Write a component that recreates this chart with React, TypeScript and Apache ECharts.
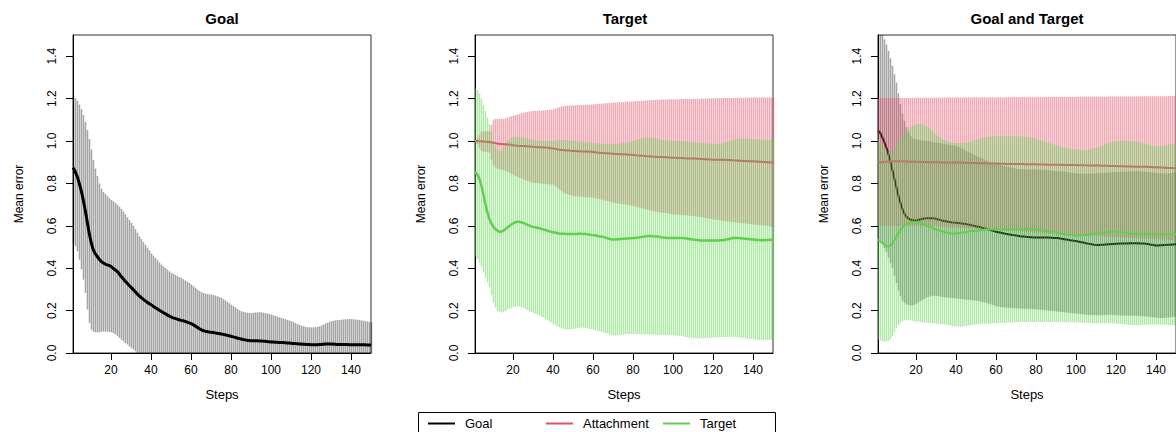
import React, { useEffect, useRef } from "react";
import * as echarts from "echarts";

// ---------- data ----------
const STEPS: number[] = Array.from({ length: 150 }, (_, i) => i + 1);
const X_TICKS = [20, 40, 60, 80, 100, 120, 140];
const Y_TICKS = [0, 0.2, 0.4, 0.6, 0.8, 1.0, 1.2, 1.4];
const Y_MIN = 0;
const Y_MAX = 1.5;

// Panel 1: Goal
const g1Mean = [
  0.874, 0.858, 0.835, 0.805, 0.770, 0.728, 0.680, 0.625, 0.570, 0.525,
  0.490, 0.470, 0.457, 0.443, 0.433, 0.426, 0.420, 0.416, 0.413, 0.408,
  0.400, 0.393, 0.386, 0.375, 0.362, 0.351, 0.340, 0.330, 0.320, 0.310,
  0.300, 0.290, 0.280, 0.270, 0.262, 0.254, 0.247, 0.240, 0.234, 0.228,
  0.221, 0.215, 0.209, 0.203, 0.197, 0.191, 0.186, 0.180, 0.175, 0.170,
  0.166, 0.163, 0.160, 0.157, 0.154, 0.152, 0.149, 0.146, 0.142, 0.139,
  0.134, 0.128, 0.122, 0.116, 0.110, 0.106, 0.103, 0.101, 0.099, 0.098,
  0.097, 0.095, 0.093, 0.092, 0.090, 0.088, 0.086, 0.084, 0.081, 0.079,
  0.076, 0.074, 0.071, 0.068, 0.066, 0.064, 0.062, 0.060, 0.059, 0.058,
  0.058, 0.058, 0.058, 0.057, 0.057, 0.056, 0.055, 0.054, 0.053, 0.052,
  0.052, 0.051, 0.051, 0.050, 0.049, 0.049, 0.048, 0.047, 0.047, 0.046,
  0.045, 0.045, 0.044, 0.043, 0.042, 0.041, 0.041, 0.040, 0.040, 0.039,
  0.039, 0.039, 0.039, 0.040, 0.040, 0.041, 0.042, 0.042, 0.043, 0.043,
  0.042, 0.041, 0.040, 0.040, 0.040, 0.040, 0.040, 0.040, 0.039, 0.039,
  0.039, 0.039, 0.039, 0.039, 0.039, 0.039, 0.039, 0.038, 0.038, 0.038,
];
const g1Upper = [
  1.210, 1.203, 1.190, 1.172, 1.150, 1.122, 1.090, 1.052, 1.010, 0.960,
  0.910, 0.870, 0.835, 0.800, 0.775, 0.760, 0.750, 0.740, 0.730, 0.722,
  0.715, 0.708, 0.700, 0.690, 0.680, 0.668, 0.654, 0.640, 0.627, 0.614,
  0.600, 0.584, 0.567, 0.550, 0.537, 0.523, 0.510, 0.497, 0.484, 0.470,
  0.459, 0.448, 0.438, 0.427, 0.417, 0.409, 0.401, 0.393, 0.385, 0.378,
  0.373, 0.368, 0.363, 0.358, 0.354, 0.348, 0.342, 0.336, 0.330, 0.323,
  0.315, 0.308, 0.300, 0.293, 0.287, 0.283, 0.280, 0.278, 0.277, 0.276,
  0.274, 0.271, 0.268, 0.264, 0.260, 0.254, 0.248, 0.241, 0.235, 0.228,
  0.221, 0.215, 0.208, 0.202, 0.197, 0.194, 0.192, 0.190, 0.189, 0.189,
  0.190, 0.191, 0.192, 0.192, 0.192, 0.190, 0.188, 0.186, 0.184, 0.181,
  0.178, 0.175, 0.172, 0.168, 0.165, 0.162, 0.159, 0.156, 0.153, 0.150,
  0.146, 0.141, 0.137, 0.133, 0.129, 0.126, 0.124, 0.122, 0.121, 0.121,
  0.121, 0.122, 0.124, 0.126, 0.129, 0.134, 0.139, 0.143, 0.147, 0.150,
  0.152, 0.154, 0.155, 0.156, 0.157, 0.158, 0.159, 0.160, 0.160, 0.160,
  0.159, 0.158, 0.157, 0.156, 0.154, 0.152, 0.150, 0.148, 0.146, 0.145,
];
const g1Lower = [
  0.520, 0.504, 0.480, 0.440, 0.394, 0.346, 0.283, 0.205, 0.142, 0.110,
  0.100, 0.098, 0.097, 0.098, 0.100, 0.101, 0.101, 0.100, 0.099, 0.097,
  0.094, 0.087, 0.079, 0.071, 0.063, 0.055, 0.047, 0.040, 0.031, 0.023,
  0.016, 0.008, 0.000, 0.000, 0.000, 0.000, 0.000, 0.000, 0.000, 0.000,
  0.000, 0.000, 0.000, 0.000, 0.000, 0.000, 0.000, 0.000, 0.000, 0.000,
  0.000, 0.000, 0.000, 0.000, 0.000, 0.000, 0.000, 0.000, 0.000, 0.000,
  0.000, 0.000, 0.000, 0.000, 0.000, 0.000, 0.000, 0.000, 0.000, 0.000,
  0.000, 0.000, 0.000, 0.000, 0.000, 0.000, 0.000, 0.000, 0.000, 0.000,
  0.000, 0.000, 0.000, 0.000, 0.000, 0.000, 0.000, 0.000, 0.000, 0.000,
  0.000, 0.000, 0.000, 0.000, 0.000, 0.000, 0.000, 0.000, 0.000, 0.000,
  0.000, 0.000, 0.000, 0.000, 0.000, 0.000, 0.000, 0.000, 0.000, 0.000,
  0.000, 0.000, 0.000, 0.000, 0.000, 0.000, 0.000, 0.000, 0.000, 0.000,
  0.000, 0.000, 0.000, 0.000, 0.000, 0.000, 0.000, 0.000, 0.000, 0.000,
  0.000, 0.000, 0.000, 0.000, 0.000, 0.000, 0.000, 0.000, 0.000, 0.000,
  0.000, 0.000, 0.000, 0.000, 0.000, 0.000, 0.000, 0.000, 0.000, 0.000,
];

// Panel 2: Target (Attachment + Target)
const a2Mean = [
  1.000, 1.000, 0.999, 0.999, 0.998, 0.997, 0.996, 0.995, 0.994, 0.992,
  0.990, 0.988, 0.987, 0.986, 0.985, 0.985, 0.984, 0.983, 0.982, 0.980,
  0.979, 0.978, 0.977, 0.977, 0.976, 0.976, 0.975, 0.974, 0.974, 0.973,
  0.972, 0.971, 0.970, 0.970, 0.969, 0.969, 0.968, 0.967, 0.966, 0.965,
  0.963, 0.961, 0.959, 0.958, 0.957, 0.956, 0.955, 0.955, 0.954, 0.953,
  0.953, 0.952, 0.952, 0.951, 0.951, 0.950, 0.950, 0.949, 0.949, 0.948,
  0.947, 0.946, 0.945, 0.944, 0.943, 0.942, 0.942, 0.941, 0.941, 0.940,
  0.939, 0.939, 0.938, 0.938, 0.937, 0.937, 0.936, 0.935, 0.935, 0.934,
  0.933, 0.932, 0.931, 0.931, 0.930, 0.929, 0.928, 0.928, 0.927, 0.926,
  0.926, 0.925, 0.925, 0.924, 0.924, 0.923, 0.923, 0.922, 0.922, 0.921,
  0.921, 0.920, 0.920, 0.920, 0.919, 0.919, 0.918, 0.918, 0.917, 0.917,
  0.917, 0.916, 0.916, 0.915, 0.915, 0.914, 0.914, 0.913, 0.913, 0.912,
  0.912, 0.912, 0.911, 0.911, 0.911, 0.910, 0.910, 0.910, 0.909, 0.909,
  0.908, 0.908, 0.907, 0.907, 0.906, 0.906, 0.905, 0.905, 0.904, 0.904,
  0.903, 0.903, 0.902, 0.902, 0.901, 0.901, 0.900, 0.900, 0.899, 0.899,
];
const a2Upper = [
  1.000, 1.015, 1.030, 1.045, 1.046, 1.046, 1.046, 1.046, 1.075, 1.100,
  1.104, 1.105, 1.105, 1.105, 1.105, 1.106, 1.110, 1.114, 1.117, 1.120,
  1.123, 1.125, 1.128, 1.131, 1.134, 1.136, 1.138, 1.139, 1.141, 1.142,
  1.143, 1.143, 1.144, 1.144, 1.145, 1.145, 1.146, 1.147, 1.148, 1.150,
  1.153, 1.156, 1.160, 1.163, 1.165, 1.166, 1.167, 1.167, 1.168, 1.168,
  1.168, 1.169, 1.169, 1.170, 1.170, 1.171, 1.171, 1.172, 1.172, 1.173,
  1.174, 1.175, 1.176, 1.176, 1.177, 1.178, 1.179, 1.180, 1.180, 1.181,
  1.182, 1.182, 1.183, 1.183, 1.184, 1.185, 1.185, 1.186, 1.186, 1.187,
  1.188, 1.188, 1.189, 1.190, 1.190, 1.191, 1.192, 1.192, 1.193, 1.194,
  1.194, 1.195, 1.195, 1.195, 1.196, 1.196, 1.196, 1.197, 1.197, 1.197,
  1.197, 1.197, 1.197, 1.198, 1.198, 1.198, 1.198, 1.198, 1.198, 1.198,
  1.199, 1.199, 1.199, 1.200, 1.200, 1.200, 1.201, 1.201, 1.201, 1.202,
  1.202, 1.202, 1.202, 1.202, 1.203, 1.203, 1.203, 1.203, 1.203, 1.203,
  1.204, 1.204, 1.204, 1.204, 1.204, 1.204, 1.205, 1.205, 1.205, 1.205,
  1.205, 1.205, 1.205, 1.205, 1.205, 1.205, 1.205, 1.205, 1.205, 1.205,
];
const a2Lower = [
  1.000, 0.985, 0.968, 0.953, 0.950, 0.949, 0.947, 0.945, 0.912, 0.885,
  0.876, 0.870, 0.866, 0.864, 0.862, 0.860, 0.856, 0.850, 0.845, 0.840,
  0.835, 0.831, 0.827, 0.823, 0.819, 0.815, 0.812, 0.809, 0.806, 0.803,
  0.802, 0.801, 0.800, 0.799, 0.798, 0.797, 0.797, 0.796, 0.795, 0.795,
  0.788, 0.780, 0.772, 0.764, 0.756, 0.752, 0.749, 0.746, 0.743, 0.740,
  0.739, 0.738, 0.738, 0.737, 0.736, 0.735, 0.734, 0.734, 0.733, 0.732,
  0.730, 0.728, 0.726, 0.724, 0.721, 0.719, 0.717, 0.714, 0.712, 0.709,
  0.707, 0.706, 0.704, 0.703, 0.701, 0.700, 0.698, 0.697, 0.695, 0.693,
  0.691, 0.688, 0.686, 0.683, 0.681, 0.679, 0.676, 0.674, 0.671, 0.669,
  0.667, 0.666, 0.664, 0.663, 0.661, 0.660, 0.659, 0.657, 0.656, 0.654,
  0.653, 0.653, 0.652, 0.651, 0.650, 0.650, 0.649, 0.648, 0.647, 0.646,
  0.644, 0.643, 0.641, 0.640, 0.638, 0.637, 0.635, 0.634, 0.632, 0.630,
  0.629, 0.628, 0.626, 0.625, 0.624, 0.622, 0.621, 0.620, 0.618, 0.617,
  0.616, 0.615, 0.614, 0.613, 0.612, 0.611, 0.610, 0.608, 0.607, 0.606,
  0.605, 0.604, 0.603, 0.602, 0.601, 0.600, 0.599, 0.598, 0.596, 0.595,
];
const t2Mean = [
  0.854, 0.845, 0.827, 0.795, 0.756, 0.712, 0.670, 0.637, 0.614, 0.598,
  0.586, 0.578, 0.573, 0.572, 0.576, 0.583, 0.591, 0.598, 0.605, 0.611,
  0.616, 0.619, 0.619, 0.617, 0.614, 0.610, 0.606, 0.602, 0.598, 0.595,
  0.593, 0.591, 0.589, 0.586, 0.583, 0.580, 0.578, 0.575, 0.572, 0.570,
  0.568, 0.566, 0.564, 0.563, 0.562, 0.562, 0.561, 0.561, 0.561, 0.561,
  0.561, 0.561, 0.562, 0.562, 0.561, 0.561, 0.560, 0.559, 0.557, 0.556,
  0.555, 0.553, 0.551, 0.550, 0.548, 0.545, 0.542, 0.539, 0.537, 0.535,
  0.535, 0.536, 0.537, 0.538, 0.539, 0.539, 0.540, 0.541, 0.541, 0.542,
  0.543, 0.544, 0.545, 0.547, 0.548, 0.550, 0.551, 0.552, 0.552, 0.551,
  0.550, 0.549, 0.548, 0.546, 0.545, 0.544, 0.543, 0.543, 0.542, 0.542,
  0.542, 0.542, 0.542, 0.542, 0.542, 0.541, 0.540, 0.538, 0.537, 0.535,
  0.534, 0.533, 0.532, 0.531, 0.531, 0.531, 0.531, 0.531, 0.531, 0.531,
  0.531, 0.531, 0.531, 0.532, 0.532, 0.534, 0.536, 0.538, 0.540, 0.542,
  0.543, 0.543, 0.542, 0.541, 0.540, 0.539, 0.538, 0.537, 0.536, 0.535,
  0.534, 0.533, 0.533, 0.532, 0.532, 0.532, 0.533, 0.533, 0.534, 0.534,
];
const t2Upper = [
  1.247, 1.240, 1.225, 1.200, 1.170, 1.140, 1.110, 1.080, 1.040, 1.000,
  0.972, 0.957, 0.950, 0.955, 0.970, 0.988, 1.000, 1.009, 1.015, 1.018,
  1.020, 1.020, 1.019, 1.017, 1.015, 1.013, 1.011, 1.009, 1.007, 1.005,
  1.004, 1.003, 1.002, 1.001, 1.000, 1.000, 1.000, 1.000, 1.000, 1.000,
  1.002, 1.004, 1.005, 1.005, 1.005, 1.004, 1.003, 1.002, 1.001, 1.000,
  0.999, 0.998, 0.997, 0.996, 0.995, 0.994, 0.993, 0.992, 0.991, 0.990,
  0.989, 0.988, 0.987, 0.986, 0.985, 0.985, 0.985, 0.985, 0.985, 0.985,
  0.986, 0.986, 0.987, 0.988, 0.990, 0.992, 0.994, 0.996, 0.998, 1.000,
  1.003, 1.006, 1.010, 1.013, 1.015, 1.016, 1.017, 1.017, 1.016, 1.015,
  1.013, 1.011, 1.009, 1.007, 1.005, 1.004, 1.003, 1.002, 1.001, 1.000,
  1.000, 1.000, 1.000, 1.000, 1.000, 0.999, 0.998, 0.997, 0.996, 0.995,
  0.994, 0.993, 0.992, 0.991, 0.990, 0.989, 0.988, 0.987, 0.986, 0.985,
  0.985, 0.986, 0.987, 0.988, 0.990, 0.993, 0.996, 0.999, 1.002, 1.005,
  1.008, 1.010, 1.012, 1.012, 1.012, 1.012, 1.011, 1.011, 1.010, 1.010,
  1.009, 1.008, 1.007, 1.006, 1.005, 1.005, 1.005, 1.005, 1.005, 1.005,
];
const t2Lower = [
  0.456, 0.443, 0.426, 0.405, 0.380, 0.356, 0.333, 0.310, 0.272, 0.238,
  0.215, 0.200, 0.195, 0.190, 0.193, 0.198, 0.204, 0.209, 0.213, 0.216,
  0.219, 0.220, 0.219, 0.216, 0.212, 0.207, 0.202, 0.197, 0.193, 0.189,
  0.185, 0.181, 0.177, 0.172, 0.167, 0.161, 0.155, 0.149, 0.143, 0.136,
  0.130, 0.125, 0.121, 0.117, 0.114, 0.112, 0.111, 0.111, 0.112, 0.114,
  0.116, 0.118, 0.119, 0.120, 0.119, 0.118, 0.116, 0.114, 0.112, 0.110,
  0.107, 0.105, 0.102, 0.100, 0.097, 0.094, 0.091, 0.088, 0.085, 0.083,
  0.083, 0.084, 0.085, 0.086, 0.087, 0.088, 0.089, 0.090, 0.090, 0.090,
  0.090, 0.090, 0.089, 0.089, 0.088, 0.088, 0.088, 0.087, 0.087, 0.087,
  0.086, 0.086, 0.086, 0.085, 0.085, 0.085, 0.085, 0.085, 0.085, 0.084,
  0.083, 0.082, 0.081, 0.080, 0.078, 0.076, 0.074, 0.072, 0.071, 0.070,
  0.069, 0.069, 0.069, 0.070, 0.070, 0.071, 0.071, 0.072, 0.072, 0.073,
  0.073, 0.074, 0.074, 0.075, 0.075, 0.075, 0.076, 0.076, 0.076, 0.076,
  0.075, 0.074, 0.073, 0.072, 0.071, 0.070, 0.068, 0.067, 0.065, 0.064,
  0.063, 0.062, 0.062, 0.061, 0.061, 0.061, 0.061, 0.061, 0.061, 0.062,
];

// Panel 3: Goal and Target
const g3Mean = [
  1.050, 1.040, 1.020, 0.998, 0.975, 0.945, 0.910, 0.870, 0.830, 0.790,
  0.750, 0.715, 0.685, 0.660, 0.645, 0.636, 0.630, 0.627, 0.625, 0.625,
  0.627, 0.630, 0.632, 0.634, 0.635, 0.636, 0.636, 0.636, 0.635, 0.633,
  0.630, 0.628, 0.625, 0.623, 0.621, 0.619, 0.618, 0.616, 0.615, 0.614,
  0.613, 0.612, 0.611, 0.609, 0.608, 0.606, 0.604, 0.602, 0.600, 0.598,
  0.596, 0.594, 0.591, 0.589, 0.586, 0.583, 0.581, 0.578, 0.575, 0.572,
  0.570, 0.568, 0.566, 0.564, 0.562, 0.560, 0.559, 0.557, 0.556, 0.554,
  0.553, 0.551, 0.550, 0.549, 0.548, 0.547, 0.546, 0.546, 0.545, 0.545,
  0.545, 0.545, 0.545, 0.545, 0.545, 0.545, 0.544, 0.544, 0.543, 0.543,
  0.542, 0.540, 0.539, 0.537, 0.535, 0.534, 0.532, 0.531, 0.529, 0.528,
  0.526, 0.524, 0.522, 0.520, 0.518, 0.516, 0.514, 0.513, 0.511, 0.510,
  0.510, 0.510, 0.511, 0.511, 0.512, 0.513, 0.513, 0.514, 0.514, 0.515,
  0.515, 0.516, 0.516, 0.517, 0.517, 0.517, 0.518, 0.518, 0.518, 0.518,
  0.518, 0.517, 0.517, 0.516, 0.515, 0.514, 0.512, 0.510, 0.509, 0.507,
  0.507, 0.508, 0.508, 0.509, 0.510, 0.511, 0.511, 0.512, 0.512, 0.513,
];
const g3Upper = [
  1.560, 1.530, 1.500, 1.480, 1.455, 1.425, 1.390, 1.355, 1.315, 1.275,
  1.225, 1.175, 1.130, 1.095, 1.065, 1.042, 1.025, 1.015, 1.010, 1.008,
  1.006, 1.004, 1.003, 1.002, 1.000, 0.999, 0.997, 0.995, 0.994, 0.992,
  0.991, 0.989, 0.987, 0.986, 0.984, 0.983, 0.981, 0.979, 0.978, 0.976,
  0.972, 0.967, 0.963, 0.958, 0.953, 0.948, 0.944, 0.939, 0.934, 0.929,
  0.925, 0.921, 0.917, 0.913, 0.909, 0.905, 0.901, 0.897, 0.894, 0.890,
  0.888, 0.886, 0.883, 0.881, 0.879, 0.877, 0.875, 0.873, 0.871, 0.869,
  0.868, 0.868, 0.867, 0.867, 0.866, 0.866, 0.866, 0.866, 0.866, 0.866,
  0.865, 0.865, 0.864, 0.864, 0.863, 0.862, 0.861, 0.860, 0.859, 0.858,
  0.857, 0.857, 0.856, 0.855, 0.854, 0.852, 0.851, 0.849, 0.848, 0.846,
  0.846, 0.846, 0.846, 0.846, 0.846, 0.846, 0.846, 0.847, 0.847, 0.847,
  0.848, 0.848, 0.849, 0.849, 0.850, 0.851, 0.852, 0.852, 0.853, 0.854,
  0.854, 0.854, 0.855, 0.855, 0.855, 0.856, 0.857, 0.857, 0.858, 0.858,
  0.857, 0.856, 0.855, 0.855, 0.854, 0.853, 0.852, 0.851, 0.850, 0.849,
  0.848, 0.848, 0.847, 0.847, 0.846, 0.847, 0.848, 0.850, 0.852, 0.854,
];
const g3Lower = [
  0.540, 0.530, 0.515, 0.495, 0.475, 0.450, 0.425, 0.400, 0.365, 0.330,
  0.295, 0.268, 0.248, 0.237, 0.230, 0.226, 0.224, 0.225, 0.228, 0.233,
  0.239, 0.245, 0.251, 0.256, 0.261, 0.265, 0.268, 0.270, 0.270, 0.269,
  0.268, 0.266, 0.264, 0.263, 0.262, 0.261, 0.260, 0.259, 0.258, 0.257,
  0.256, 0.255, 0.254, 0.253, 0.252, 0.251, 0.250, 0.249, 0.248, 0.247,
  0.245, 0.243, 0.241, 0.239, 0.236, 0.233, 0.230, 0.227, 0.224, 0.221,
  0.219, 0.217, 0.216, 0.215, 0.214, 0.213, 0.212, 0.212, 0.211, 0.211,
  0.210, 0.210, 0.209, 0.209, 0.208, 0.208, 0.207, 0.207, 0.206, 0.206,
  0.205, 0.204, 0.203, 0.202, 0.201, 0.200, 0.199, 0.198, 0.197, 0.196,
  0.195, 0.194, 0.193, 0.192, 0.191, 0.190, 0.189, 0.188, 0.187, 0.186,
  0.185, 0.184, 0.183, 0.182, 0.181, 0.180, 0.180, 0.179, 0.179, 0.178,
  0.178, 0.178, 0.179, 0.179, 0.180, 0.180, 0.180, 0.179, 0.179, 0.178,
  0.178, 0.177, 0.177, 0.177, 0.177, 0.176, 0.176, 0.176, 0.176, 0.176,
  0.175, 0.175, 0.174, 0.173, 0.172, 0.171, 0.170, 0.169, 0.168, 0.167,
  0.166, 0.165, 0.165, 0.166, 0.167, 0.168, 0.169, 0.170, 0.171, 0.172,
];
const a3Mean = [
  0.898, 0.899, 0.900, 0.901, 0.902, 0.903, 0.904, 0.905, 0.905, 0.905,
  0.905, 0.904, 0.904, 0.903, 0.903, 0.903, 0.902, 0.902, 0.902, 0.902,
  0.902, 0.901, 0.901, 0.901, 0.901, 0.900, 0.900, 0.900, 0.900, 0.900,
  0.900, 0.900, 0.899, 0.899, 0.899, 0.899, 0.899, 0.898, 0.898, 0.898,
  0.898, 0.898, 0.897, 0.897, 0.897, 0.897, 0.896, 0.896, 0.896, 0.896,
  0.895, 0.895, 0.895, 0.895, 0.895, 0.894, 0.894, 0.894, 0.894, 0.894,
  0.893, 0.893, 0.893, 0.893, 0.892, 0.892, 0.892, 0.892, 0.891, 0.891,
  0.891, 0.891, 0.891, 0.890, 0.890, 0.890, 0.890, 0.890, 0.890, 0.890,
  0.889, 0.889, 0.889, 0.889, 0.889, 0.888, 0.888, 0.888, 0.888, 0.888,
  0.888, 0.888, 0.888, 0.887, 0.887, 0.887, 0.887, 0.887, 0.887, 0.887,
  0.886, 0.886, 0.886, 0.886, 0.885, 0.885, 0.885, 0.885, 0.884, 0.884,
  0.884, 0.884, 0.883, 0.883, 0.883, 0.883, 0.882, 0.882, 0.882, 0.882,
  0.881, 0.881, 0.881, 0.881, 0.880, 0.880, 0.880, 0.880, 0.879, 0.879,
  0.879, 0.879, 0.878, 0.878, 0.878, 0.877, 0.877, 0.877, 0.876, 0.876,
  0.876, 0.875, 0.875, 0.874, 0.874, 0.873, 0.873, 0.873, 0.872, 0.872,
];
const a3Upper = [
  1.203, 1.203, 1.203, 1.203, 1.203, 1.203, 1.203, 1.203, 1.203, 1.203,
  1.203, 1.203, 1.203, 1.203, 1.203, 1.203, 1.203, 1.204, 1.204, 1.204,
  1.204, 1.204, 1.204, 1.204, 1.204, 1.204, 1.204, 1.204, 1.204, 1.204,
  1.205, 1.205, 1.205, 1.205, 1.205, 1.205, 1.205, 1.205, 1.205, 1.205,
  1.205, 1.205, 1.205, 1.205, 1.205, 1.206, 1.206, 1.206, 1.206, 1.206,
  1.206, 1.206, 1.206, 1.206, 1.206, 1.206, 1.206, 1.206, 1.206, 1.206,
  1.206, 1.206, 1.206, 1.206, 1.206, 1.207, 1.207, 1.207, 1.207, 1.207,
  1.207, 1.207, 1.207, 1.207, 1.207, 1.207, 1.207, 1.207, 1.207, 1.207,
  1.207, 1.207, 1.207, 1.207, 1.207, 1.208, 1.208, 1.208, 1.208, 1.208,
  1.208, 1.208, 1.208, 1.208, 1.208, 1.208, 1.208, 1.208, 1.208, 1.208,
  1.209, 1.209, 1.209, 1.209, 1.209, 1.209, 1.209, 1.209, 1.209, 1.209,
  1.209, 1.209, 1.209, 1.209, 1.209, 1.210, 1.210, 1.210, 1.210, 1.210,
  1.210, 1.210, 1.210, 1.210, 1.210, 1.210, 1.210, 1.210, 1.210, 1.210,
  1.211, 1.211, 1.211, 1.211, 1.211, 1.211, 1.211, 1.211, 1.211, 1.211,
  1.211, 1.211, 1.211, 1.211, 1.211, 1.212, 1.212, 1.212, 1.212, 1.212,
];
const a3Lower = [
  0.600, 0.600, 0.600, 0.600, 0.600, 0.600, 0.600, 0.600, 0.600, 0.600,
  0.599, 0.599, 0.599, 0.599, 0.599, 0.599, 0.599, 0.599, 0.599, 0.599,
  0.598, 0.598, 0.598, 0.598, 0.598, 0.598, 0.598, 0.598, 0.598, 0.598,
  0.596, 0.596, 0.595, 0.595, 0.594, 0.594, 0.593, 0.593, 0.592, 0.592,
  0.591, 0.591, 0.590, 0.590, 0.590, 0.589, 0.589, 0.588, 0.588, 0.587,
  0.587, 0.586, 0.586, 0.585, 0.585, 0.584, 0.584, 0.583, 0.583, 0.582,
  0.581, 0.581, 0.580, 0.579, 0.579, 0.578, 0.577, 0.577, 0.576, 0.575,
  0.575, 0.574, 0.573, 0.573, 0.572, 0.571, 0.571, 0.570, 0.569, 0.569,
  0.568, 0.567, 0.567, 0.566, 0.565, 0.565, 0.564, 0.563, 0.563, 0.562,
  0.561, 0.561, 0.560, 0.560, 0.559, 0.559, 0.558, 0.558, 0.557, 0.557,
  0.556, 0.556, 0.555, 0.555, 0.554, 0.554, 0.553, 0.553, 0.552, 0.552,
  0.551, 0.551, 0.550, 0.550, 0.549, 0.549, 0.548, 0.548, 0.547, 0.547,
  0.546, 0.546, 0.545, 0.545, 0.544, 0.544, 0.543, 0.543, 0.542, 0.542,
  0.541, 0.541, 0.540, 0.540, 0.539, 0.539, 0.538, 0.538, 0.537, 0.537,
  0.536, 0.536, 0.535, 0.535, 0.534, 0.534, 0.533, 0.533, 0.532, 0.532,
];
const t3Mean = [
  0.535, 0.528, 0.520, 0.512, 0.505, 0.502, 0.505, 0.514, 0.528, 0.545,
  0.562, 0.577, 0.590, 0.599, 0.606, 0.611, 0.614, 0.616, 0.617, 0.617,
  0.616, 0.614, 0.611, 0.607, 0.603, 0.598, 0.594, 0.590, 0.586, 0.583,
  0.580, 0.577, 0.575, 0.572, 0.569, 0.567, 0.565, 0.564, 0.564, 0.564,
  0.565, 0.566, 0.568, 0.569, 0.571, 0.572, 0.574, 0.575, 0.576, 0.577,
  0.578, 0.579, 0.580, 0.581, 0.582, 0.582, 0.583, 0.583, 0.583, 0.583,
  0.583, 0.583, 0.583, 0.583, 0.583, 0.583, 0.583, 0.583, 0.583, 0.583,
  0.584, 0.584, 0.585, 0.585, 0.586, 0.586, 0.585, 0.585, 0.584, 0.583,
  0.582, 0.580, 0.579, 0.577, 0.575, 0.573, 0.572, 0.570, 0.569, 0.567,
  0.565, 0.564, 0.562, 0.560, 0.559, 0.558, 0.557, 0.556, 0.555, 0.554,
  0.554, 0.554, 0.555, 0.555, 0.556, 0.557, 0.559, 0.561, 0.562, 0.564,
  0.565, 0.566, 0.568, 0.569, 0.570, 0.571, 0.572, 0.572, 0.573, 0.573,
  0.572, 0.571, 0.570, 0.568, 0.567, 0.566, 0.565, 0.563, 0.562, 0.561,
  0.561, 0.561, 0.561, 0.561, 0.561, 0.560, 0.560, 0.560, 0.559, 0.559,
  0.559, 0.559, 0.559, 0.559, 0.559, 0.559, 0.560, 0.560, 0.561, 0.561,
];
const t3Upper = [
  1.008, 0.995, 0.980, 0.967, 0.955, 0.946, 0.940, 0.944, 0.960, 0.980,
  1.000, 1.016, 1.030, 1.041, 1.050, 1.058, 1.065, 1.070, 1.075, 1.078,
  1.080, 1.080, 1.078, 1.075, 1.070, 1.063, 1.055, 1.047, 1.039, 1.030,
  1.023, 1.016, 1.010, 1.005, 1.000, 0.996, 0.993, 0.991, 0.990, 0.990,
  0.990, 0.990, 0.991, 0.992, 0.993, 0.995, 0.997, 1.000, 1.003, 1.006,
  1.009, 1.012, 1.015, 1.018, 1.020, 1.021, 1.022, 1.022, 1.022, 1.022,
  1.022, 1.022, 1.022, 1.022, 1.022, 1.022, 1.022, 1.022, 1.022, 1.022,
  1.022, 1.022, 1.021, 1.021, 1.020, 1.019, 1.017, 1.015, 1.012, 1.009,
  1.006, 1.003, 1.000, 0.997, 0.994, 0.991, 0.988, 0.985, 0.982, 0.979,
  0.976, 0.974, 0.972, 0.970, 0.968, 0.966, 0.964, 0.962, 0.961, 0.960,
  0.959, 0.958, 0.958, 0.958, 0.958, 0.959, 0.961, 0.963, 0.966, 0.969,
  0.972, 0.976, 0.980, 0.984, 0.988, 0.991, 0.994, 0.996, 0.998, 1.000,
  1.001, 1.001, 1.001, 1.001, 1.000, 1.000, 1.000, 0.999, 0.998, 0.997,
  0.995, 0.993, 0.990, 0.988, 0.985, 0.982, 0.979, 0.977, 0.976, 0.975,
  0.975, 0.976, 0.977, 0.979, 0.981, 0.983, 0.985, 0.987, 0.988, 0.989,
];
const t3Lower = [
  0.063, 0.060, 0.056, 0.054, 0.054, 0.057, 0.065, 0.080, 0.100, 0.118,
  0.132, 0.143, 0.150, 0.154, 0.155, 0.155, 0.154, 0.152, 0.150, 0.148,
  0.147, 0.146, 0.145, 0.144, 0.143, 0.142, 0.141, 0.140, 0.140, 0.139,
  0.138, 0.137, 0.136, 0.135, 0.133, 0.131, 0.129, 0.127, 0.126, 0.125,
  0.124, 0.124, 0.124, 0.125, 0.127, 0.129, 0.131, 0.133, 0.134, 0.135,
  0.136, 0.137, 0.137, 0.138, 0.138, 0.139, 0.139, 0.140, 0.140, 0.141,
  0.141, 0.142, 0.142, 0.143, 0.143, 0.144, 0.144, 0.145, 0.145, 0.146,
  0.146, 0.146, 0.146, 0.146, 0.146, 0.146, 0.146, 0.146, 0.146, 0.146,
  0.146, 0.146, 0.146, 0.146, 0.146, 0.146, 0.146, 0.146, 0.146, 0.146,
  0.146, 0.145, 0.145, 0.145, 0.145, 0.145, 0.145, 0.145, 0.145, 0.145,
  0.144, 0.144, 0.143, 0.143, 0.142, 0.142, 0.141, 0.141, 0.140, 0.140,
  0.140, 0.140, 0.140, 0.140, 0.140, 0.140, 0.140, 0.140, 0.139, 0.139,
  0.138, 0.137, 0.136, 0.135, 0.134, 0.133, 0.132, 0.131, 0.131, 0.131,
  0.131, 0.132, 0.132, 0.133, 0.133, 0.134, 0.134, 0.134, 0.134, 0.134,
  0.134, 0.133, 0.133, 0.133, 0.132, 0.132, 0.132, 0.131, 0.131, 0.131,
];

const PANEL_TITLES = ["Goal", "Target", "Goal and Target"];
const LEGEND_NAMES = ["Goal", "Attachment", "Target"];

// ---------- styling ----------
const FONT = "'Liberation Sans', Arial, Helvetica, sans-serif";
const COL_GOAL = "#000000";
const COL_ATT = "#DF536B";
const COL_TGT = "#61D04F";
const BAND_GOAL = "rgba(0,0,0,0.36)";
const BAND_ATT = "rgba(223,83,107,0.50)";
const BAND_TGT = "rgba(97,208,79,0.48)";
const BAND_WIDTH = 1.5;

const GRIDS = [
  { left: 73, top: 35, width: 298, height: 318 },
  { left: 475, top: 35, width: 298, height: 318 },
  { left: 878, top: 35, width: 298, height: 318 },
];

function bandSeries(gi: number, upper: number[], lower: number[], color: string, z: number) {
  return {
    type: "custom",
    xAxisIndex: gi,
    yAxisIndex: gi,
    z,
    silent: true,
    data: STEPS.map((s, i) => [s, lower[i], upper[i]]),
    encode: { x: 0, y: [1, 2] },
    renderItem: (_params: any, api: any) => {
      const x = api.value(0);
      const lo = Math.max(Y_MIN, api.value(1));
      const hi = Math.min(Y_MAX, api.value(2));
      const a = api.coord([x, lo]);
      const b = api.coord([x, hi]);
      const px = Math.floor(a[0]) + 0.5;
      return {
        type: "line",
        shape: { x1: px, y1: a[1], x2: px, y2: b[1] },
        style: { stroke: color, lineWidth: BAND_WIDTH },
      };
    },
  };
}

function meanSeries(gi: number, mean: number[], color: string, width: number, z: number) {
  return {
    type: "line",
    xAxisIndex: gi,
    yAxisIndex: gi,
    z,
    silent: true,
    showSymbol: false,
    symbol: "none",
    data: STEPS.map((s, i) => [s, mean[i]]),
    lineStyle: { color, width },
  };
}

function xAxis(gi: number) {
  return {
    type: "value",
    gridIndex: gi,
    min: 1,
    max: 150,
    name: "Steps",
    nameLocation: "middle",
    nameGap: 35,
    nameTextStyle: { fontFamily: FONT, fontSize: 13, color: "#000" },
    axisLine: { show: true, lineStyle: { color: "#000", width: 1 } },
    axisTick: { show: true, length: 7, customValues: X_TICKS, lineStyle: { color: "#000" } },
    axisLabel: { customValues: X_TICKS, fontFamily: FONT, fontSize: 12, color: "#000", margin: 11 },
    splitLine: { show: false },
  };
}

function yAxis(gi: number) {
  return {
    type: "value",
    gridIndex: gi,
    min: Y_MIN,
    max: Y_MAX,
    name: "Mean error",
    nameLocation: "middle",
    nameRotate: 90,
    nameGap: 48,
    nameTextStyle: { fontFamily: FONT, fontSize: 12, color: "#000" },
    axisLine: { show: true, lineStyle: { color: "#000", width: 1 } },
    axisTick: { show: true, length: 7, customValues: Y_TICKS, lineStyle: { color: "#000" } },
    axisLabel: {
      customValues: Y_TICKS,
      rotate: 90,
      fontFamily: FONT,
      fontSize: 12,
      color: "#000",
      margin: 15,
      formatter: (v: number) => v.toFixed(1),
    },
    splitLine: { show: false },
  };
}

export default function App() {
  const ref = useRef<HTMLDivElement>(null);

  useEffect(() => {
    if (!ref.current) return;
    const chart = echarts.init(ref.current, null, { renderer: "svg" });

    const titleCenters = [222, 625, 1027];
    const graphic: any[] = PANEL_TITLES.map((t, i) => ({
      type: "text",
      x: titleCenters[i],
      y: 18,
      style: {
        text: t,
        textAlign: "center",
        textVerticalAlign: "middle",
        font: `bold 15px ${FONT}`,
        fill: "#000",
      },
    }));

    // legend box
    const legendCols = [COL_GOAL, COL_ATT, COL_TGT];
    const legendLineX = [428, 546, 663];
    const legendY = 423.5;
    graphic.push({
      type: "rect",
      shape: { x: 418.5, y: 412.5, width: 357, height: 40 },
      style: { fill: "#fff", stroke: "#000", lineWidth: 1 },
    });
    LEGEND_NAMES.forEach((n, i) => {
      graphic.push({
        type: "line",
        shape: { x1: legendLineX[i], y1: legendY, x2: legendLineX[i] + 27, y2: legendY },
        style: { stroke: legendCols[i], lineWidth: 2 },
      });
      graphic.push({
        type: "text",
        x: legendLineX[i] + 37,
        y: legendY,
        style: {
          text: n,
          textAlign: "left",
          textVerticalAlign: "middle",
          font: `13px ${FONT}`,
          fill: "#000",
        },
      });
    });

    const option: any = {
      animation: false,
      backgroundColor: "#fff",
      grid: GRIDS.map((g) => ({
        ...g,
        show: true,
        borderColor: "#333",
        borderWidth: 1,
        backgroundColor: "transparent",
        containLabel: false,
      })),
      xAxis: [xAxis(0), xAxis(1), xAxis(2)],
      yAxis: [yAxis(0), yAxis(1), yAxis(2)],
      series: [
        // panel 1
        bandSeries(0, g1Upper, g1Lower, BAND_GOAL, 1),
        meanSeries(0, g1Mean, COL_GOAL, 3, 2),
        // panel 2
        bandSeries(1, a2Upper, a2Lower, BAND_ATT, 1),
        meanSeries(1, a2Mean, COL_ATT, 2, 2),
        bandSeries(1, t2Upper, t2Lower, BAND_TGT, 3),
        meanSeries(1, t2Mean, COL_TGT, 2.5, 4),
        // panel 3
        bandSeries(2, g3Upper, g3Lower, BAND_GOAL, 1),
        meanSeries(2, g3Mean, COL_GOAL, 2, 2),
        bandSeries(2, a3Upper, a3Lower, BAND_ATT, 3),
        meanSeries(2, a3Mean, COL_ATT, 2, 4),
        bandSeries(2, t3Upper, t3Lower, BAND_TGT, 5),
        meanSeries(2, t3Mean, COL_TGT, 2, 6),
      ],
      graphic,
    };

    chart.setOption(option);
    return () => chart.dispose();
  }, []);

  return (
    <div
      ref={ref}
      style={{ position: "fixed", left: 0, top: 0, width: 1176, height: 432, background: "#fff" }}
    />
  );
}
